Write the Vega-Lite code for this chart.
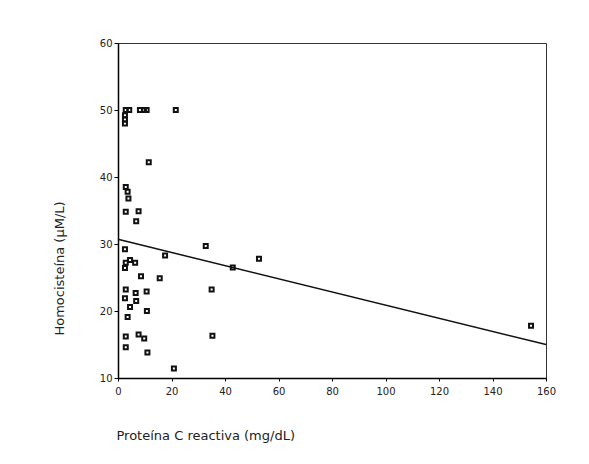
{
  "$schema": "https://vega.github.io/schema/vega-lite/v6.json",
  "width": 428,
  "height": 335,
  "autosize": {"type": "none"},
  "padding": {"left": 118, "top": 43, "right": 43, "bottom": 86},
  "background": "white",
  "config": {
    "view": {"stroke": "#333", "strokeWidth": 1},
    "font": "DejaVu Sans",
    "axis": {"grid": false, "domainColor": "#000", "domainWidth": 1.5, "tickColor": "#000", "labelColor": "#222", "titleColor": "#222", "labelFontSize": 10, "titleFontSize": 13, "titleFontWeight": "normal", "labelFont": "DejaVu Sans", "titleFont": "DejaVu Sans", "labelFlush": false}
  },
  "datasets": {
    "pts": [
      {"pcr": 2.9, "hcy": 50}, {"pcr": 4.2, "hcy": 50}, {"pcr": 8.2, "hcy": 50}, {"pcr": 9.7, "hcy": 50}, {"pcr": 10.7, "hcy": 50}, {"pcr": 21.6, "hcy": 50},
      {"pcr": 2.6, "hcy": 49.2}, {"pcr": 2.6, "hcy": 48.6}, {"pcr": 2.6, "hcy": 48.0},
      {"pcr": 11.5, "hcy": 42.2},
      {"pcr": 2.9, "hcy": 38.5}, {"pcr": 3.6, "hcy": 37.8}, {"pcr": 3.9, "hcy": 36.8},
      {"pcr": 2.9, "hcy": 34.8}, {"pcr": 7.7, "hcy": 34.9}, {"pcr": 6.8, "hcy": 33.4},
      {"pcr": 2.6, "hcy": 29.2}, {"pcr": 2.9, "hcy": 27.2}, {"pcr": 2.6, "hcy": 26.4}, {"pcr": 4.5, "hcy": 27.6}, {"pcr": 6.4, "hcy": 27.2},
      {"pcr": 17.6, "hcy": 28.3}, {"pcr": 32.8, "hcy": 29.7}, {"pcr": 52.7, "hcy": 27.8}, {"pcr": 42.9, "hcy": 26.5},
      {"pcr": 8.6, "hcy": 25.2}, {"pcr": 15.6, "hcy": 24.9},
      {"pcr": 2.9, "hcy": 23.2}, {"pcr": 35.0, "hcy": 23.2}, {"pcr": 10.7, "hcy": 22.9}, {"pcr": 6.6, "hcy": 22.7},
      {"pcr": 2.6, "hcy": 21.9}, {"pcr": 6.8, "hcy": 21.5}, {"pcr": 4.5, "hcy": 20.6}, {"pcr": 10.8, "hcy": 20.0}, {"pcr": 3.6, "hcy": 19.1},
      {"pcr": 2.9, "hcy": 16.2}, {"pcr": 35.3, "hcy": 16.3}, {"pcr": 7.7, "hcy": 16.5}, {"pcr": 9.8, "hcy": 15.9},
      {"pcr": 2.9, "hcy": 14.6}, {"pcr": 11.0, "hcy": 13.8}, {"pcr": 20.9, "hcy": 11.4},
      {"pcr": 154.4, "hcy": 17.8}
    ],
    "fit": [
      {"pcr": 0, "hcy": 30.7},
      {"pcr": 160, "hcy": 15.0}
    ]
  },
  "layer": [
    {
      "data": {"name": "fit"},
      "mark": {"type": "line", "color": "#111", "strokeWidth": 1.5},
      "encoding": {
        "x": {"field": "pcr", "type": "quantitative"},
        "y": {"field": "hcy", "type": "quantitative"}
      }
    },
    {
      "data": {"name": "pts"},
      "mark": {"type": "point", "shape": "square", "filled": false, "color": "#111", "strokeWidth": 2, "size": 16, "opacity": 1},
      "encoding": {
        "x": {
          "field": "pcr", "type": "quantitative",
          "scale": {"domain": [0, 160], "nice": false, "zero": false},
          "axis": {
            "title": "Proteína C reactiva (mg/dL)",
            "values": [0, 10, 20, 30, 40, 50, 60, 70, 80, 90, 100, 110, 120, 130, 140, 150, 160],
            "labelExpr": "datum.value % 20 == 0 ? datum.label : ''",
            "tickSize": 3,
            "labelPadding": 5,
            "titleAnchor": "start",
            "titleAlign": "left",
            "titleX": -2,
            "titleY": 51,
            "titleBaseline": "top"
          }
        },
        "y": {
          "field": "hcy", "type": "quantitative",
          "scale": {"domain": [10, 60], "nice": false, "zero": false},
          "axis": {
            "title": "Homocisteína (µM/L)",
            "values": [10, 15, 20, 25, 30, 35, 40, 45, 50, 55, 60],
            "labelExpr": "datum.value % 10 == 0 ? datum.label : ''",
            "tickSize": 4,
            "labelPadding": 2,
            "titleX": -52,
            "titleY": 225,
            "titleBaseline": "bottom"
          }
        }
      }
    }
  ]
}
